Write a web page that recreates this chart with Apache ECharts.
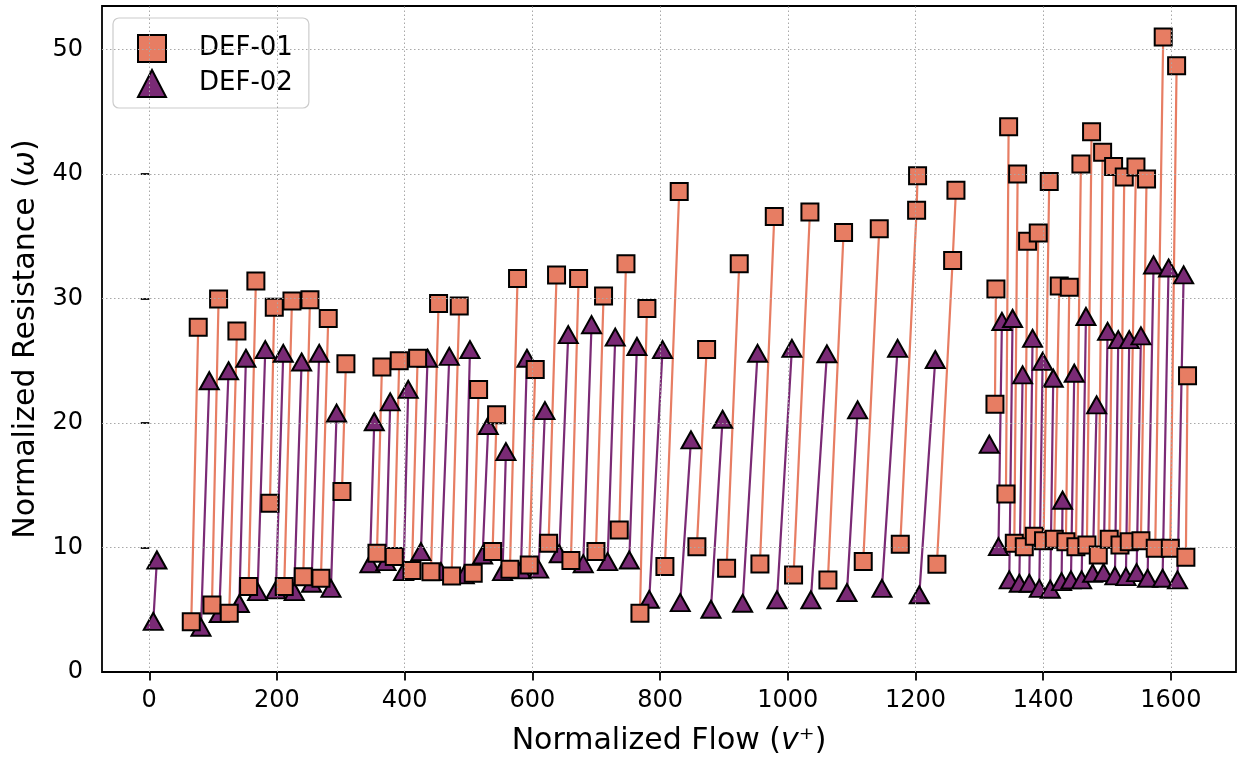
<!DOCTYPE html>
<html><head><meta charset="utf-8">
<script src="https://cdn.jsdelivr.net/npm/echarts@6/dist/echarts.min.js"></script>
<style>html,body{margin:0;padding:0;background:#fff}#c{width:1238px;height:759px}</style>
</head><body><div id="c"></div>
<script>
// DEF-01 (squares): points and the segment each belongs to
const def01X = [65.8,76.7, 98.2,108.6, 125.3,137.3, 155.6,167, 189,195.8, 211.4,223.5, 241.2,251.7, 268.9,280.3, 301.8,308,
  356.6,364.4, 383.7,391.5, 411.4,420.3, 441.2,453.1, 473.5,485.5, 507.4,515.8, 537.7,544, 564.9,576.8, 595.1,604.5,
  625.4,637.9, 660.4,672.4, 699.6,711.5, 736.1,746.6, 768.5,779.4, 807.6,830, 857.7,872.9, 904.2,924, 956.4,978.9,
  1009.1,1034.7, 1062.9,1087.4, 1118.2,1143.3, 1176.2,1201.8,1203.3, 1233.6,1258.2,1263.4,
  1324.5,1326, 1341.7,1345.9, 1354.8,1360, 1370.4,1375.6, 1386.1,1392.3, 1400.6,1409.5, 1417.4,1425.2, 1435.6,1440.9,
  1451.3,1459.1, 1468.5,1475.8, 1486.3,1493.1, 1503.5,1510.3, 1520.3,1527, 1534.8,1545.3, 1553.1,1561.9, 1575.5,1588,
  1599.1,1609, 1623.5,1626.1];
const def01Y = [4.04,27.7, 5.39,29.96, 4.72,27.4, 6.86,31.4, 13.56,29.3, 6.86,29.8, 7.66,29.9, 7.53,28.4, 14.5,24.76,
  9.54,24.5, 9.27,25.0, 8.15,25.2, 8.06,29.6, 7.72,29.4, 7.93,22.7, 9.67,20.66, 8.26,31.6, 8.6,24.3,
  10.35,31.9, 8.95,31.6, 9.67,30.2, 11.4,32.8, 4.72,29.2, 8.47,38.6, 10.07,25.9, 8.33,32.8, 8.68,36.6,
  7.8,36.95, 7.4,35.3, 8.87,35.6, 10.26,37.1,39.87, 8.66,33.06,38.7,
  21.5,30.76, 14.3,43.8, 10.35,40.0, 10.07,34.6, 10.9,35.26, 10.55,39.4, 10.67,31.0, 10.47,30.9,
  10.07,40.8, 10.2,43.4, 9.4,41.75, 10.67,40.6, 10.2,39.76, 10.47,40.56, 10.55,39.6, 9.94,51.0,
  9.94,48.7, 9.22,23.8];
const def01Seg = [0,0,1,1,2,2,3,3,4,4,5,5,6,6,7,7,8,8,9,9,10,10,11,11,12,12,13,13,14,14,15,15,16,16,17,17,
  18,18,19,19,20,20,21,21,22,22,23,23,24,24,25,25,26,26,27,27,28,28,29,29,30,30,30,31,31,31,
  32,32,33,33,34,34,35,35,36,36,37,37,38,38,39,39,40,40,41,41,42,42,43,43,44,44,45,45,46,46,47,47,48,48,49,49];

// DEF-02 (triangles)
const def02X = [6.3,12, 81,94, 109.6,124.2, 141,151.4, 169.7,181.7, 198.4,209.9, 227,238.6, 254.2,266.2, 284.6,293.4,
  345.6,352.4, 370.7,377.4, 398.3,405.6, 425.5,435.9, 456.8,469.9, 493.3,502.3, 522.1,530.9, 553.3,558.6, 582.1,591.5,
  609.8,619.7, 642.1,656.2, 679.7,692.7, 717.8,729.8, 751.8,763.8, 783.1,803.9, 831.6,848.4, 879.7,897.9, 929.3,952.7,
  983.1,1006.5, 1036.2,1061.3, 1092.7,1109.4, 1147.5,1172, 1206,1231,
  1315.6, 1330,1335.4, 1346.9,1352.1, 1362.6,1367.8, 1378.2,1383.4, 1393.9,1399.1, 1411.1,1415.8, 1428.8,1430.4,
  1443.5,1448.7, 1460.2,1467, 1477.4,1483.7, 1494.6,1500.9, 1512.4,1517.6, 1529.6,1534.8, 1546.3,1553.1, 1563.5,1572.9,
  1587,1596.4, 1610.4,1620];
const def02Y = [4.07,9.0, 3.6,23.4, 4.7,24.2, 5.5,25.2, 6.46,25.9, 6.6,25.6, 6.46,24.9, 7.13,25.6, 6.72,20.8,
  8.7,20.1, 8.87,21.7, 8.06,22.7, 9.67,25.2, 8.06,25.35, 7.8,25.9, 9.4,19.8, 8.06,17.7, 8.2,25.2,
  8.26,21.0, 9.5,27.1, 8.7,27.9, 8.87,26.9, 9.0,26.15, 5.84,25.9, 5.57,18.65, 5.04,20.3, 5.52,25.6,
  5.79,26.0, 5.79,25.56, 6.38,21.06, 6.72,26.0, 6.2,25.1,
  18.3, 10.07,28.16, 7.4,28.4, 7.13,23.87, 7.13,26.8, 6.72,24.95, 6.65,23.6, 7.26,13.8,
  7.4,24.0, 7.4,28.56, 7.93,21.46, 7.98,27.36, 7.72,26.7, 7.66,26.7, 7.98,27.0, 7.53,32.7,
  7.53,32.45, 7.4,31.9];
const def02Seg = [0,0,1,1,2,2,3,3,4,4,5,5,6,6,7,7,8,8,9,9,10,10,11,11,12,12,13,13,14,14,15,15,16,16,17,17,
  18,18,19,19,20,20,21,21,22,22,23,23,24,24,25,25,26,26,27,27,28,28,29,29,30,30,31,31,
  32,33,33,34,34,35,35,36,36,37,37,38,38,39,39,40,40,41,41,42,42,43,43,44,44,45,45,46,46,47,47,48,48,49,49];

const xTicks = [0,200,400,600,800,1000,1200,1400,1600];
const yTicks = [0,10,20,30,40,50];
const xRange = [-74, 1702];
const yRange = [0, 53.5];

const C1 = '#E77D63', C2 = '#7A2A75';
const FONT = 'DejaVu Sans';

function pts(xs, ys){ return xs.map((x,i)=>[x, ys[i]]); }
function segLine(xs, ys, seg){
  const out=[];
  for(let i=0;i<xs.length;i++){
    if(i>0 && seg[i]!==seg[i-1]) out.push([(xs[i-1]+xs[i])/2,'-']);
    out.push([xs[i], ys[i]]);
  }
  return out;
}
const gridLines = xTicks.filter(v=>v>xRange[0]&&v<xRange[1]).map(v=>({xAxis:v}))
  .concat(yTicks.filter(v=>v>yRange[0]&&v<yRange[1]).map(v=>({yAxis:v})));

const chart = echarts.init(document.getElementById('c'), null, {renderer:'canvas'});
chart.setOption({
  animation:false,
  backgroundColor:'#fff',
  textStyle:{fontFamily:FONT},
  grid:{left:102, right:2, top:6, bottom:87, show:true, borderColor:'#000', borderWidth:1.8,
    backgroundColor:'transparent', containLabel:false, outerBoundsMode:'none'},
  xAxis:{type:'value', min:xRange[0], max:xRange[1],
    axisLine:{show:false}, splitLine:{show:false},
    axisTick:{show:true, inside:false, length:8.5, lineStyle:{color:'#000', width:1.8}, customValues:xTicks},
    axisLabel:{fontSize:24, color:'#000', fontFamily:FONT, margin:17, customValues:xTicks, formatter:v=>String(v)},
    name:'Normalized Flow ({i|v}⁺)', nameLocation:'middle', nameGap:54,
    nameTextStyle:{fontSize:30, color:'#000', fontFamily:FONT, rich:{i:{fontStyle:'italic', fontSize:30, fontFamily:FONT, color:'#000'}}}
  },
  yAxis:{type:'value', min:yRange[0], max:yRange[1],
    axisLine:{show:false}, splitLine:{show:false},
    axisTick:{show:true, inside:false, length:8.5, lineStyle:{color:'#000', width:1.8}, customValues:yTicks},
    axisLabel:{fontSize:24, color:'#000', fontFamily:FONT, margin:19, customValues:yTicks, formatter:v=>String(v)},
    name:'Normalized Resistance ({i|ω})', nameLocation:'middle', nameGap:57,
    nameTextStyle:{fontSize:30, color:'#000', fontFamily:FONT, rich:{i:{fontStyle:'italic', fontSize:30, fontFamily:FONT, color:'#000'}}}
  },
  legend:{show:true, left:113, top:18, orient:'vertical', padding:[16,16,10,24], itemGap:6,
    itemWidth:28, itemHeight:27, borderColor:'#cccccc', borderWidth:1.2, borderRadius:6,
    backgroundColor:'rgba(255,255,255,0.85)',
    textStyle:{fontSize:26, color:'#000', fontFamily:FONT, padding:[0,0,0,28]},
    data:[{name:'DEF-01', icon:'rect'},{name:'DEF-02', icon:'triangle'}]
  },
  series:[
    {name:'grid', type:'line', data:[], z:1, silent:true,
      markLine:{silent:true, symbol:['none','none'], label:{show:false}, animation:false,
        lineStyle:{color:'#a8a8a8', width:1, type:[1.5,2.5]}, emphasis:{disabled:true}, data:gridLines}},
    {name:'DEF-01 line', type:'line', data:segLine(def01X,def01Y,def01Seg), showSymbol:false, symbol:'none',
      connectNulls:false, z:2, lineStyle:{color:C1, width:2.2}, silent:true},
    {name:'DEF-02 line', type:'line', data:segLine(def02X,def02Y,def02Seg), showSymbol:false, symbol:'none',
      connectNulls:false, z:2, lineStyle:{color:C2, width:2.2}, silent:true},
    {name:'DEF-02', type:'scatter', data:pts(def02X,def02Y), symbol:'triangle', symbolSize:[19,17], z:3,
      itemStyle:{color:C2, borderColor:'#000', borderWidth:2, opacity:1}},
    {name:'DEF-01', type:'scatter', data:pts(def01X,def01Y), symbol:'rect', symbolSize:17, z:4,
      itemStyle:{color:C1, borderColor:'#000', borderWidth:2, opacity:1}}
  ]
});
</script></body></html>
